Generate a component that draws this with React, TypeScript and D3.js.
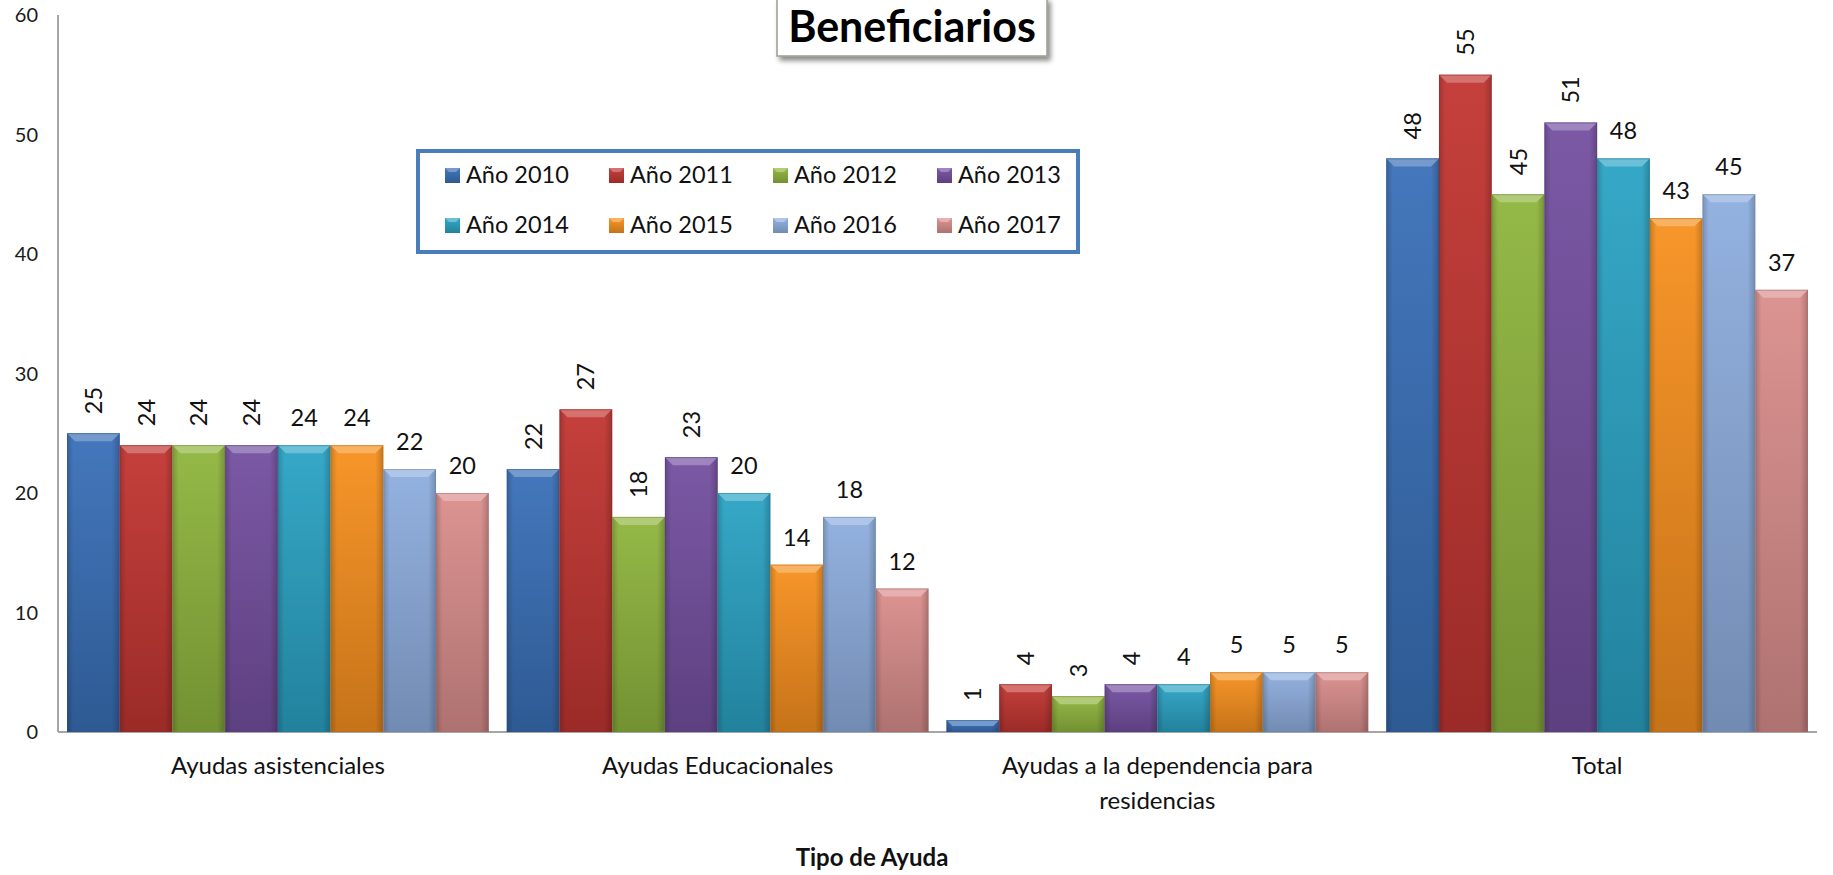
import React from "react";
import * as d3 from "d3";

const categories = [
  "Ayudas asistenciales",
  "Ayudas Educacionales",
  "Ayudas a la dependencia para residencias",
  "Total",
];
const categoryLines = [
  ["Ayudas asistenciales"],
  ["Ayudas Educacionales"],
  ["Ayudas a la dependencia para", "residencias"],
  ["Total"],
];
const seriesNames = [
  "Año 2010",
  "Año 2011",
  "Año 2012",
  "Año 2013",
  "Año 2014",
  "Año 2015",
  "Año 2016",
  "Año 2017",
];
const v2010 = [25, 22, 1, 48];
const v2011 = [24, 27, 4, 55];
const v2012 = [24, 18, 3, 45];
const v2013 = [24, 23, 4, 51];
const v2014 = [24, 20, 4, 48];
const v2015 = [24, 14, 5, 43];
const v2016 = [22, 18, 5, 45];
const v2017 = [20, 12, 5, 37];
const seriesValues = [v2010, v2011, v2012, v2013, v2014, v2015, v2016, v2017];
const seriesColors = [
  "#3A70B8",
  "#C23632",
  "#8FB53E",
  "#7450A0",
  "#2BA3C4",
  "#F7901F",
  "#8EAEDE",
  "#DA8E8C",
];
const yTicks = [0, 10, 20, 30, 40, 50, 60];
const titleText = "Beneficiarios";
const axisTitle = "Tipo de Ayuda";

const W = 1833;
const H = 875;
const FONT = "Lato, 'Open Sans', sans-serif";

export default function App() {
  const x0 = d3
    .scaleBand<string>()
    .domain(categories)
    .range([58, 1817])
    .paddingInner(0.041)
    .paddingOuter(0.0205);
  const x1 = d3
    .scaleBand<string>()
    .domain(seriesNames)
    .range([0, x0.bandwidth()])
    .padding(0);
  const y = d3.scaleLinear().domain([0, 60]).range([732, 15]);
  const base = y(0);

  const lighter = (c: string, t: number) => d3.interpolateRgb(c, "#ffffff")(t);
  const darker = (c: string, t: number) => d3.interpolateRgb(c, "#000000")(t);

  return (
    <svg
      width={W}
      height={H}
      style={{ position: "absolute", left: 0, top: 0, display: "block", background: "#fff" }}
    >
      <defs>
        {seriesColors.map((c, i) => (
          <linearGradient key={"v" + i} id={"gv" + i} x1="0" y1="0" x2="0" y2="1">
            <stop offset="0" stopColor={lighter(c, 0.05)} />
            <stop offset="1" stopColor={darker(c, 0.2)} />
          </linearGradient>
        ))}
        <linearGradient id="edges" x1="0" y1="0" x2="1" y2="0">
          <stop offset="0" stopColor="#000" stopOpacity={0.18} />
          <stop offset="0.12" stopColor="#000" stopOpacity={0} />
          <stop offset="0.85" stopColor="#000" stopOpacity={0} />
          <stop offset="1" stopColor="#000" stopOpacity={0.2} />
        </linearGradient>
        <filter id="shadow" x="-10%" y="-20%" width="130%" height="160%">
          <feDropShadow dx="3" dy="4" stdDeviation="2.5" floodColor="#000" floodOpacity="0.45" />
        </filter>
      </defs>

      {/* axes */}
      <line x1={58} x2={58} y1={y(60)} y2={base} stroke="#a6a6a6" strokeWidth={2} />
      <line x1={58} x2={1817} y1={base} y2={base} stroke="#a6a6a6" strokeWidth={2} />
      {yTicks.map((t) => (
        <text
          key={t}
          x={38}
          y={y(t)}
          dy="0.35em"
          textAnchor="end"
          fontFamily={FONT}
          fontSize={20}
          fill="#1a1a1a"
        >
          {t}
        </text>
      ))}

      {/* bars */}
      {categories.map((cat, ci) =>
        seriesNames.map((s, si) => {
          const v = seriesValues[si][ci];
          const bx = (x0(cat) as number) + (x1(s) as number);
          const bw = x1.bandwidth();
          const by = y(v);
          const bh = base - by;
          const b = Math.min(8, bh / 2);
          const c = seriesColors[si];
          return (
            <g key={cat + s}>
              <rect x={bx} y={by} width={bw} height={bh} fill={`url(#gv${si})`} />
              <rect x={bx} y={by} width={bw} height={bh} fill="url(#edges)" />
              <polygon
                points={`${bx},${by} ${bx + bw},${by} ${bx + bw - b},${by + b} ${bx + b},${by + b}`}
                fill={lighter(c, 0.3)}
              />
              <rect
                x={bx + 0.5}
                y={by + 0.5}
                width={bw - 1}
                height={bh - 1}
                fill="none"
                stroke={darker(c, 0.25)}
                strokeOpacity={0.5}
                strokeWidth={1}
              />
            </g>
          );
        })
      )}

      {/* data labels */}
      {categories.map((cat, ci) =>
        seriesNames.map((s, si) => {
          const v = seriesValues[si][ci];
          const cx = (x0(cat) as number) + (x1(s) as number) + x1.bandwidth() / 2;
          const ty = y(v) - 19;
          if (si < 4) {
            return (
              <text
                key={"l" + cat + s}
                transform={`translate(${cx + 8.5},${ty}) rotate(-90)`}
                textAnchor="start"
                fontFamily={FONT}
                fontSize={23.5}
                fill="#111"
              >
                {v}
              </text>
            );
          }
          return (
            <text
              key={"l" + cat + s}
              x={cx}
              y={ty}
              textAnchor="middle"
              fontFamily={FONT}
              fontSize={23.5}
              fill="#111"
            >
              {v}
            </text>
          );
        })
      )}

      {/* category labels */}
      {categories.map((cat, ci) => (
        <text
          key={"c" + cat}
          x={(x0(cat) as number) + x0.bandwidth() / 2}
          y={774}
          textAnchor="middle"
          fontFamily={FONT}
          fontSize={24}
          fill="#111"
        >
          {categoryLines[ci].map((ln, li) => (
            <tspan key={li} x={(x0(cat) as number) + x0.bandwidth() / 2} dy={li === 0 ? 0 : 35}>
              {ln}
            </tspan>
          ))}
        </text>
      ))}

      {/* axis title */}
      <text
        x={872}
        y={866}
        textAnchor="middle"
        fontFamily={FONT}
        fontSize={24}
        fontWeight="bold"
        fill="#111"
      >
        {axisTitle}
      </text>

      {/* title */}
      <rect
        x={777}
        y={-2}
        width={270}
        height={58}
        fill="#fff"
        stroke="#9c9c8c"
        strokeWidth={1.5}
        filter="url(#shadow)"
      />
      <text
        x={912}
        y={42}
        textAnchor="middle"
        fontFamily={FONT}
        fontSize={43}
        fontWeight="bold"
        fill="#000"
      >
        {titleText}
      </text>

      {/* legend */}
      <rect x={418} y={151} width={660} height={101} fill="#fff" stroke="#4A7EBB" strokeWidth={4} />
      {seriesNames.map((s, si) => {
        const col = si % 4;
        const row = Math.floor(si / 4);
        const lx = 445 + col * 164;
        const ly = 175 + row * 50;
        const c = seriesColors[si];
        return (
          <g key={"lg" + s}>
            <rect x={lx} y={ly - 7} width={15} height={15} fill={`url(#gv${si})`} />
            <polygon
              points={`${lx},${ly - 7} ${lx + 15},${ly - 7} ${lx + 11},${ly - 3} ${lx + 4},${ly - 3}`}
              fill={lighter(c, 0.3)}
            />
            <text
              x={lx + 21}
              y={ly}
              dy="0.35em"
              fontFamily={FONT}
              fontSize={23.5}
              fill="#111"
            >
              {s}
            </text>
          </g>
        );
      })}
    </svg>
  );
}
